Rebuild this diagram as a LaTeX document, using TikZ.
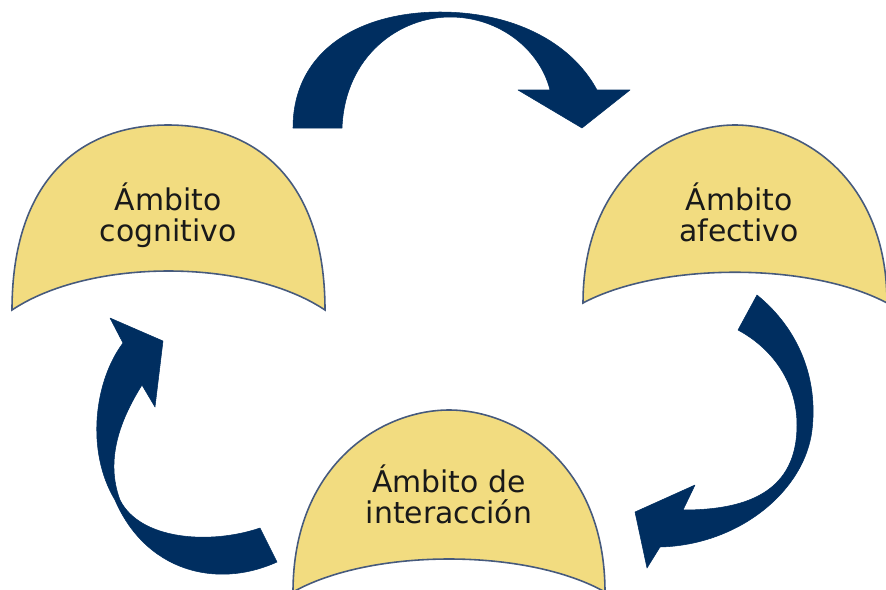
\documentclass[tikz,border=0pt]{standalone}
\usepackage{fontspec}
\setmainfont{DejaVu Sans}
\usetikzlibrary{positioning}
\definecolor{domefill}{RGB}{242,220,128}
\definecolor{domeline}{RGB}{70,90,125}
\definecolor{flechablue}{RGB}{0,46,96}
\tikzset{%
  % Specifications for style of shapes and nodes:
            ambito/.style = {fill=domefill, draw=domeline, line width=0.9pt},
            flecha/.style = {fill=flechablue, draw=flechablue, line width=0.3pt,
                             line join=round},
            texto/.style = {align=center, text=black!90,
                            font=\fontsize{17}{17.5}\selectfont}
}

\begin{document}
\begin{tikzpicture}[x=0.02cm, y=-0.02cm]
    \useasboundingbox (0,0) rectangle (886,589);
    \clip (0,0) rectangle (886,589);
    % domes
    \draw[ambito] (12,310) .. controls (12,180) and (80,125) .. (168,125)
        .. controls (256,125) and (325,180) .. (325,310)
        .. controls (247,258) and (90,258) .. (12,310) -- cycle;
    \draw[ambito] (583,303) .. controls (583,178) and (669,125) .. (735,125)
        .. controls (801,125) and (887,178) .. (887,303)
        .. controls (810,262) and (660,262) .. (583,303) -- cycle;
    \draw[ambito] (293,592) .. controls (293,465) and (381,410) .. (449,410)
        .. controls (517,410) and (605,465) .. (605,592)
        .. controls (527,548) and (371,548) .. (293,592) -- cycle;
    \node[texto] (cog) at (168,215) {Ámbito\\cognitivo};
    \node[texto] (afe) at (739,212) {Ámbito\\afectivo};
    \node[texto] (int) at (449,494) {Ámbito de\\interacción};
    % arrows
    \fill[flecha] (293,128) .. controls (293,50) and (360,12) .. (440,12)
        .. controls (510,12) and (570,40) .. (597,90)
        -- (630,90) -- (582,128) -- (518,90) -- (550,90)
        .. controls (540,50) and (500,17) .. (450,17)
        .. controls (400,17) and (345,55) .. (342,128) -- cycle;
    \fill[flecha] (757,295) .. controls (800,330) and (818,380) .. (812,430)
        .. controls (805,490) and (740,545) .. (660,547)
        -- (647,568) -- (635,512) -- (695,485) -- (683,510)
        .. controls (750,510) and (797,490) .. (797,425)
        .. controls (797,385) and (775,350) .. (738,330) -- cycle;
    \fill[flecha] (277,562) .. controls (215,590) and (145,570) .. (115,500)
        .. controls (85,450) and (95,380) .. (123,343)
        -- (110,318) -- (163,341) -- (155,407) -- (142,385)
        .. controls (120,420) and (105,460) .. (120,500)
        .. controls (140,540) and (210,545) .. (260,528) -- cycle;
\end{tikzpicture}
\end{document}
